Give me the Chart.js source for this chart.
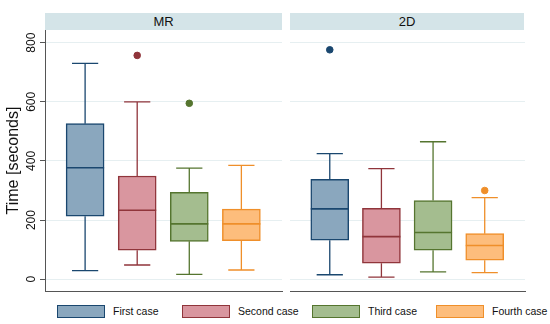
<!DOCTYPE html>
<html>
<head>
<meta charset="utf-8">
<script src="https://cdn.jsdelivr.net/npm/chart.js@4.4.1/dist/chart.umd.min.js"></script>
<style>
  body { margin: 0; background: #fff; font-family: "Liberation Sans", Arial, sans-serif; }
  #wrap { position: relative; width: 550px; height: 324px; }
  .strip { position: absolute; top: 13px; height: 17px; background: #d4e4e8; color: #111;
           font-size: 13px; line-height: 18px; text-align: center; }
  .panel { position: absolute; top: 30px; height: 263px; }
  #legend { position: absolute; top: 305px; left: 0; width: 550px; height: 14px; font-size: 10.5px; color: #111; }
  .swatch { position: absolute; top: 0; width: 46px; height: 11px; border: 1px solid; }
  .label { position: absolute; top: 0; line-height: 13px; white-space: nowrap; }
</style>
</head>
<body>
<div id="wrap">
  <div class="strip" style="left:45px; width:237px;">MR</div>
  <div class="strip" style="left:290px; width:234px;">2D</div>
  <div class="panel" style="left:0; width:284px;"><canvas id="mrChart"></canvas></div>
  <div class="panel" style="left:289px; width:238px;"><canvas id="twoDChart"></canvas></div>
  <div id="legend"></div>
</div>
<script>
const cases = ["First case", "Second case", "Third case", "Fourth case"];
const panels = ["MR", "2D"];
const yTicks = [0, 200, 400, 600, 800];

// box stats per case: [min, q1, median, q3, max]
const mrStats = [
  [29, 213, 377, 526, 730],
  [48, 98, 233, 349, 600],
  [16, 128, 187, 294, 376],
  [31, 130, 187, 237, 385]
];
const twoDStats = [
  [15, 132, 238, 338, 425],
  [7, 54, 144, 240, 374],
  [25, 98, 158, 266, 465],
  [22, 64, 114, 154, 276]
];
// outliers: [case index, value]
const mrOutliers = [[1, 757], [2, 595]];
const twoDOutliers = [[0, 776], [3, 300]];

const fillColors = ["#8aa7be", "#d9969f", "#a4bd8f", "#fdbd7c"];
const lineColors = ["#1a476f", "#90353b", "#55752f", "#ef8f2a"];

// whiskers, caps and median line drawn on top of the floating bars
const boxPlugin = {
  id: "boxLines",
  afterDatasetsDraw(chart) {
    const stats = chart.config.options.boxStats;
    const xs = chart.scales.x, ys = chart.scales.y;
    const bars = chart.getDatasetMeta(0).data;
    const ctx = chart.ctx;
    ctx.save();
    stats.forEach((s, i) => {
      const cx = xs.getPixelForValue(i + 1);
      const boxHalf = bars[i].width / 2;
      const half = boxHalf * 0.69;
      ctx.strokeStyle = lineColors[i];
      ctx.lineWidth = 1.3;
      ctx.beginPath();
      ctx.moveTo(cx, ys.getPixelForValue(s[3]));
      ctx.lineTo(cx, ys.getPixelForValue(s[4]));
      ctx.moveTo(cx, ys.getPixelForValue(s[1]));
      ctx.lineTo(cx, ys.getPixelForValue(s[0]));
      ctx.moveTo(cx - half, ys.getPixelForValue(s[4]));
      ctx.lineTo(cx + half, ys.getPixelForValue(s[4]));
      ctx.moveTo(cx - half, ys.getPixelForValue(s[0]));
      ctx.lineTo(cx + half, ys.getPixelForValue(s[0]));
      ctx.stroke();
      ctx.lineWidth = 1.6;
      ctx.beginPath();
      ctx.moveTo(cx - boxHalf, ys.getPixelForValue(s[2]));
      ctx.lineTo(cx + boxHalf, ys.getPixelForValue(s[2]));
      ctx.stroke();
    });
    ctx.restore();
  }
};

function makePanel(canvasId, stats, outliers, showAxis) {
  const boxData = stats.map((s, i) => ({ x: i + 1, y: [s[1], s[3]] }));
  const outData = outliers.map(o => ({ x: o[0] + 1, y: o[1] }));
  const outColors = outliers.map(o => lineColors[o[0]]);

  return new Chart(document.getElementById(canvasId), {
    type: "bar",
    data: {
      datasets: [
        {
          type: "bar",
          data: boxData,
          backgroundColor: fillColors,
          borderColor: lineColors,
          borderWidth: 1.5,
          borderSkipped: false,
          barThickness: 38,
          order: 2
        },
        {
          type: "scatter",
          data: outData,
          backgroundColor: outColors,
          borderColor: outColors,
          pointRadius: 3.3,
          order: 1
        }
      ]
    },
    plugins: [boxPlugin],
    options: {
      boxStats: stats,
      responsive: true,
      maintainAspectRatio: false,
      animation: false,
      layout: { autoPadding: false, padding: { top: 0, right: 2, bottom: 2, left: showAxis ? 0 : 1 } },
      plugins: { legend: { display: false }, tooltip: { enabled: false } },
      scales: {
        x: {
          type: "linear",
          offset: false,
          min: 0.23,
          max: 4.78,
          ticks: { display: false },
          grid: { display: false, drawTicks: false, offset: false },
          border: { display: true, color: "#555", width: 1 },
          afterFit: s => { s.height = 0; }
        },
        y: {
          min: -40,
          max: 843,
          afterBuildTicks: s => { s.ticks = yTicks.map(v => ({ value: v })); },
          ticks: {
            display: showAxis,
            minRotation: 90,
            maxRotation: 90,
            crossAlign: "center",
            padding: -2,
            color: "#111",
            font: { family: "'Liberation Sans', Arial, sans-serif", size: 12 }
          },
          grid: {
            color: "#e6eff1",
            lineWidth: 1,
            drawTicks: showAxis,
            tickLength: 5,
            tickColor: "#555"
          },
          border: { display: showAxis, color: "#555", width: 1 },
          title: {
            display: showAxis,
            text: "Time [seconds]",
            color: "#111",
            padding: { top: 4, bottom: 0 },
            font: { family: "'Liberation Sans', Arial, sans-serif", size: 16 }
          },
          afterFit: s => { s.width = showAxis ? 45 : 0; s.paddingTop = 0; s.paddingBottom = 0; }
        }
      }
    }
  });
}

makePanel("mrChart", mrStats, mrOutliers, true);
makePanel("twoDChart", twoDStats, twoDOutliers, false);

// legend
const legendDiv = document.getElementById("legend");
const swatchX = [57, 182, 312, 436];
cases.forEach((c, i) => {
  const sw = document.createElement("div");
  sw.className = "swatch";
  sw.style.left = swatchX[i] + "px";
  sw.style.background = fillColors[i];
  sw.style.borderColor = lineColors[i];
  legendDiv.appendChild(sw);
  const lb = document.createElement("div");
  lb.className = "label";
  lb.style.left = (swatchX[i] + 56) + "px";
  lb.textContent = c;
  legendDiv.appendChild(lb);
});
</script>
</body>
</html>
